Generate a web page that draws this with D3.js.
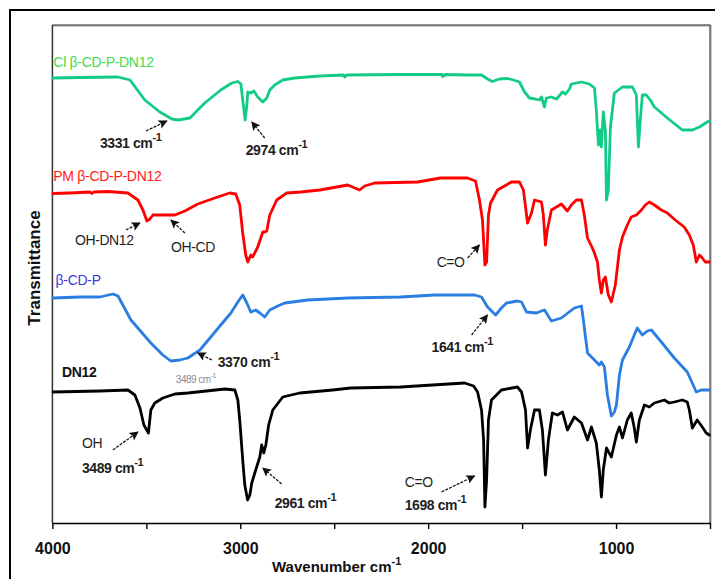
<!DOCTYPE html>
<html>
<head>
<meta charset="utf-8">
<script src="https://cdn.jsdelivr.net/npm/d3@7"></script>
<style>
  body { margin: 0; background: #fff; }
  svg { display: block; }
  text { font-family: "Liberation Sans", Arial, sans-serif; }
</style>
</head>
<body>
<svg id="chart" width="715" height="579"></svg>
<script>
// FTIR spectra: wavenumber (cm-1) vs. offset transmittance (a.u.)
const tickMajor = [4000, 3000, 2000, 1000];
const tickAll = [4000, 3500, 3000, 2500, 2000, 1500, 1000, 500];

const clSpectrum = [
  [3997,89.0],[3853,89.1],[3651,89.2],[3587,88.6],[3508,84.6],[3428,82.2],[3364,80.8],[3331,80.6],
  [3268,81.0],[3189,84.0],[3104,86.6],[3045,88.0],[3013,88.3],[2997,87.8],[2987,84.6],[2974,80.6],
  [2965,83.6],[2960,86.2],[2944,86.0],[2928,86.4],[2907,85.2],[2880,84.2],[2859,85.0],[2843,86.6],
  [2817,87.6],[2774,88.6],[2710,89.0],[2577,89.4],[2450,89.6],[2444,89.2],[2434,89.6],[2152,89.7],
  [1926,89.7],[1923,89.3],[1907,89.7],[1790,89.6],[1716,89.6],[1684,88.8],[1658,88.3],[1621,88.8],
  [1578,88.9],[1546,88.6],[1514,88.2],[1487,86.2],[1461,85.0],[1429,84.8],[1408,84.6],[1397,85.2],
  [1381,83.2],[1371,85.0],[1344,85.2],[1317,84.8],[1285,86.2],[1269,85.8],[1248,86.8],[1238,87.8],
  [1184,88.2],[1142,87.8],[1115,87.0],[1105,82.6],[1094,75.6],[1084,78.6],[1078,75.2],[1068,82.2],
  [1057,78.6],[1051,64.6],[1041,66.6],[1030,79.2],[1009,86.0],[966,87.2],[913,87.2],[892,85.6],
  [881,75.2],[871,80.6],[860,85.6],[839,85.6],[818,84.6],[796,83.2],[727,81.0],[647,78.6],
  [594,78.6],[556,79.2],[515,80.2],[504,80.4]
];

const pmSpectrum = [
  [3997,65.9],[3906,66.0],[3800,66.2],[3790,65.9],[3780,66.2],[3704,66.3],[3598,66.0],[3545,64.6],
  [3518,62.6],[3497,60.4],[3481,60.8],[3465,61.6],[3348,61.6],[3295,62.4],[3226,63.8],[3136,65.0],
  [3056,66.0],[3024,65.8],[3003,63.6],[2987,58.0],[2971,53.6],[2960,52.2],[2944,53.6],[2934,53.2],
  [2907,55.2],[2880,58.2],[2870,58.2],[2859,58.4],[2843,61.6],[2806,64.6],[2753,66.0],[2678,66.2],
  [2577,66.6],[2428,67.6],[2365,66.6],[2338,67.4],[2285,68.0],[2056,68.2],[1934,69.0],[1790,69.0],
  [1748,68.4],[1727,64.6],[1711,60.6],[1698,51.6],[1689,52.2],[1679,61.6],[1668,64.0],[1631,66.6],
  [1557,68.2],[1514,68.2],[1493,66.6],[1471,60.0],[1450,62.0],[1434,64.6],[1397,64.2],[1387,61.6],
  [1376,55.6],[1366,58.6],[1344,62.6],[1291,63.8],[1259,62.4],[1238,63.6],[1211,64.6],[1184,64.6],
  [1169,61.6],[1152,57.0],[1131,55.4],[1115,54.0],[1099,52.2],[1089,48.6],[1078,46.0],[1068,48.6],
  [1057,49.2],[1041,45.6],[1025,44.2],[1004,47.6],[982,54.6],[966,57.2],[940,59.6],[919,61.2],
  [892,61.6],[865,62.6],[844,63.6],[823,64.2],[796,63.6],[759,62.6],[727,62.0],[685,60.6],
  [637,59.2],[610,57.6],[589,55.6],[573,52.2],[556,53.6],[541,53.0],[525,52.2],[504,52.2]
];

const cdpSpectrum = [
  [3997,45.0],[3853,45.2],[3747,45.2],[3678,45.8],[3651,45.4],[3582,40.6],[3476,36.0],[3412,33.6],
  [3370,32.4],[3322,32.6],[3279,33.0],[3215,34.6],[3157,37.2],[3104,39.6],[3050,42.0],[3013,44.2],
  [2987,45.6],[2965,44.0],[2944,42.2],[2918,42.6],[2896,42.0],[2870,41.2],[2843,42.6],[2801,43.4],
  [2763,44.0],[2641,44.6],[2428,45.0],[2147,45.2],[1966,45.6],[1753,45.6],[1716,45.2],[1684,43.2],
  [1641,41.6],[1610,43.0],[1583,44.0],[1525,44.4],[1503,44.2],[1477,42.2],[1424,42.0],[1397,42.4],
  [1381,42.6],[1344,40.4],[1291,41.0],[1222,43.0],[1184,43.4],[1174,40.6],[1152,34.0],[1115,32.6],
  [1089,31.6],[1078,32.2],[1062,31.2],[1046,25.6],[1025,21.4],[1009,22.2],[998,23.6],[982,29.6],
  [966,32.6],[929,35.2],[903,37.6],[887,39.0],[860,37.6],[834,38.4],[812,38.6],[759,36.2],
  [690,33.0],[621,30.2],[573,26.2],[546,26.6],[504,26.6]
];

const dn12Spectrum = [
  [3997,26.2],[3747,26.4],[3598,26.6],[3561,25.6],[3534,23.0],[3513,19.6],[3489,18.0],[3476,22.6],
  [3455,24.0],[3412,25.0],[3348,25.8],[3279,26.0],[3082,26.8],[3029,26.6],[3013,24.6],[3003,20.6],
  [2987,12.6],[2976,7.6],[2961,4.6],[2949,5.6],[2939,8.0],[2918,10.6],[2896,13.2],[2886,15.6],
  [2875,14.0],[2864,15.6],[2849,19.6],[2827,22.6],[2774,25.2],[2684,26.0],[2508,26.6],[2412,27.0],
  [2147,27.2],[1806,28.0],[1758,27.4],[1737,26.2],[1716,22.6],[1705,16.6],[1698,3.2],[1689,8.6],
  [1679,20.6],[1663,24.6],[1610,26.6],[1525,27.2],[1503,26.2],[1482,22.6],[1471,15.0],[1456,18.6],
  [1434,22.6],[1408,22.6],[1392,18.6],[1376,9.6],[1360,16.6],[1339,22.0],[1312,21.6],[1285,22.2],
  [1259,18.6],[1222,21.2],[1184,20.0],[1152,16.6],[1131,19.2],[1105,16.0],[1089,10.6],[1078,5.2],
  [1068,10.6],[1051,15.0],[1025,13.2],[998,17.6],[982,19.2],[966,17.0],[940,20.6],[919,22.0],
  [903,19.0],[892,16.2],[876,20.6],[849,23.6],[823,23.2],[796,24.0],[743,24.6],[717,24.0],
  [690,24.2],[647,24.6],[621,24.2],[610,22.6],[594,19.0],[568,20.6],[541,19.2],[520,18.0],[504,17.6]
];

const seriesNames = ["Cl \u03b2-CD-P-DN12", "PM \u03b2-CD-P-DN12", "\u03b2-CD-P", "DN12"];
const seriesData = [clSpectrum, pmSpectrum, cdpSpectrum, dn12Spectrum];
const lineColors = ["#12cc86", "#ff0000", "#2a7de1", "#000000"];
const nameColors = ["#3fdc4c", "#ff1a1a", "#3b3be0", "#111111"];
const nameAnchors = [[3995, 91.2], [3995, 68.4], [3983, 47.6], [3949, 29.2]];

// peak annotations: text, superscript, anchor (wavenumber, a.u.), bold
const peakLabels = [
  ["3331 cm", "-1", 3747, 75.0, true],
  ["2974 cm", "-1", 2971, 73.6, true],
  ["OH-DN12", "", 3880, 55.6, false],
  ["OH-CD", "", 3369, 54.2, false],
  ["C=O", "", 1955, 51.2, false],
  ["1641 cm", "-1", 1982, 34.2, true],
  ["3370 cm", "-1", 3120, 31.2, true],
  ["OH", "", 3843, 15.0, false],
  ["3489 cm", "-1", 3843, 10.0, true],
  ["2961 cm", "-1", 2817, 3.0, true],
  ["C=O", "", 2125, 7.2, false],
  ["1698 cm", "-1", 2125, 2.6, true]
];
// arrows: tail (wavenumber, a.u.) -> head (wavenumber, a.u.)
const peakArrows = [
  [3502, 78.4, 3391, 80.4],
  [2870, 77.0, 2939, 80.2],
  [3609, 58.6, 3534, 60.0],
  [3295, 58.0, 3369, 60.6],
  [1790, 53.0, 1727, 55.6],
  [1769, 37.6, 1684, 41.6],
  [3151, 32.6, 3226, 34.0],
  [3678, 14.6, 3545, 18.2],
  [2780, 7.8, 2880, 11.0],
  [1929, 6.2, 1753, 9.4]
];

const svg = d3.select("#chart");
const x = d3.scaleLinear().domain([4000, 500]).range([52.4, 710]);
const y = d3.scaleLinear().domain([0, 100]).range([523, 23]);

// outer frame
svg.append("rect").attr("x", 10).attr("y", 10).attr("width", 730).attr("height", 600)
  .attr("fill", "none").attr("stroke", "#000").attr("stroke-width", 2);

// plot box (top and right edges)
svg.append("path").attr("d", `M${x(4000)},25.5 H710.5 V523`)
  .attr("fill", "none").attr("stroke", "#9a9a9a").attr("stroke-width", 2);
svg.append("path").attr("d", `M${x(4000)},25 H710 V523`)
  .attr("fill", "none").attr("stroke", "#555").attr("stroke-width", 1);
svg.append("line").attr("x1", x(4000)).attr("x2", x(4000)).attr("y1", 25).attr("y2", 523)
  .attr("stroke", "#333").attr("stroke-width", 1.5);

// bottom axis
const axis = d3.axisBottom(x).tickValues(tickAll)
  .tickFormat(d => tickMajor.includes(d) ? d : "")
  .tickSize(6).tickSizeOuter(0).tickPadding(14);
const gx = svg.append("g").attr("transform", "translate(0,523)").call(axis);
gx.select(".domain").attr("stroke", "#000").attr("stroke-width", 1.6);
gx.selectAll(".tick line").attr("stroke", "#000").attr("stroke-width", 1.4);
gx.selectAll(".tick text").attr("font-size", 16).attr("font-weight", "bold")
  .attr("fill", "#111").attr("font-family", "'Liberation Sans', Arial, sans-serif");

// axis titles
const xt = svg.append("text").attr("x", 272).attr("y", 572)
  .attr("font-size", 15).attr("font-weight", "bold").attr("fill", "#111");
xt.append("tspan").text("Wavenumber cm");
xt.append("tspan").text("-1").attr("font-size", 11).attr("dy", -7);

svg.append("text").attr("transform", "translate(40,268) rotate(-90)")
  .attr("text-anchor", "middle").attr("font-size", 17).attr("font-weight", "bold")
  .attr("fill", "#111").text("Transmittance");

// spectra
const line = d3.line().x(d => x(d[0])).y(d => y(d[1]));
seriesData.forEach((s, i) => {
  svg.append("path").datum(s).attr("d", line)
    .attr("fill", "none").attr("stroke", lineColors[i]).attr("stroke-width", 2.8)
    .attr("stroke-linejoin", "round").attr("stroke-linecap", "round");
});

// series names
seriesNames.forEach((n, i) => {
  svg.append("text").attr("x", x(nameAnchors[i][0])).attr("y", y(nameAnchors[i][1]))
    .attr("font-size", 14).attr("font-weight", i === 3 ? "bold" : "normal")
    .attr("letter-spacing", -0.3).attr("fill", nameColors[i]).text(n);
});

// arrowhead
svg.append("defs").append("marker").attr("id", "head")
  .attr("viewBox", "0 0 10 10").attr("refX", 9).attr("refY", 5)
  .attr("markerWidth", 11).attr("markerHeight", 9).attr("markerUnits", "userSpaceOnUse")
  .attr("orient", "auto")
  .append("path").attr("d", "M0,0 L10,5 L0,10 L2,5 Z").attr("fill", "#111");

peakArrows.forEach(a => {
  svg.append("line").attr("x1", x(a[0])).attr("y1", y(a[1]))
    .attr("x2", x(a[2])).attr("y2", y(a[3]))
    .attr("stroke", "#1a1a1a").attr("stroke-width", 1.3)
    .attr("stroke-dasharray", "3,1.2").attr("marker-end", "url(#head)");
});

peakLabels.forEach(p => {
  const t = svg.append("text").attr("x", x(p[2])).attr("y", y(p[3]))
    .attr("font-size", 14).attr("font-weight", p[4] ? "bold" : "normal")
    .attr("letter-spacing", -0.4).attr("fill", "#1f1f1f");
  t.append("tspan").text(p[0]);
  if (p[1]) t.append("tspan").text(p[1]).attr("font-size", 11).attr("dy", -7);
});

// faint leftover label beneath the β-CD-P band
const faint = svg.append("text").attr("x", x(3343)).attr("y", y(28.0))
  .attr("font-size", 10).attr("letter-spacing", -0.5).attr("fill", "#8a8a8a");
faint.append("tspan").text("3489 cm");
faint.append("tspan").text("-1").attr("font-size", 7).attr("dy", -5);
</script>
</body>
</html>
